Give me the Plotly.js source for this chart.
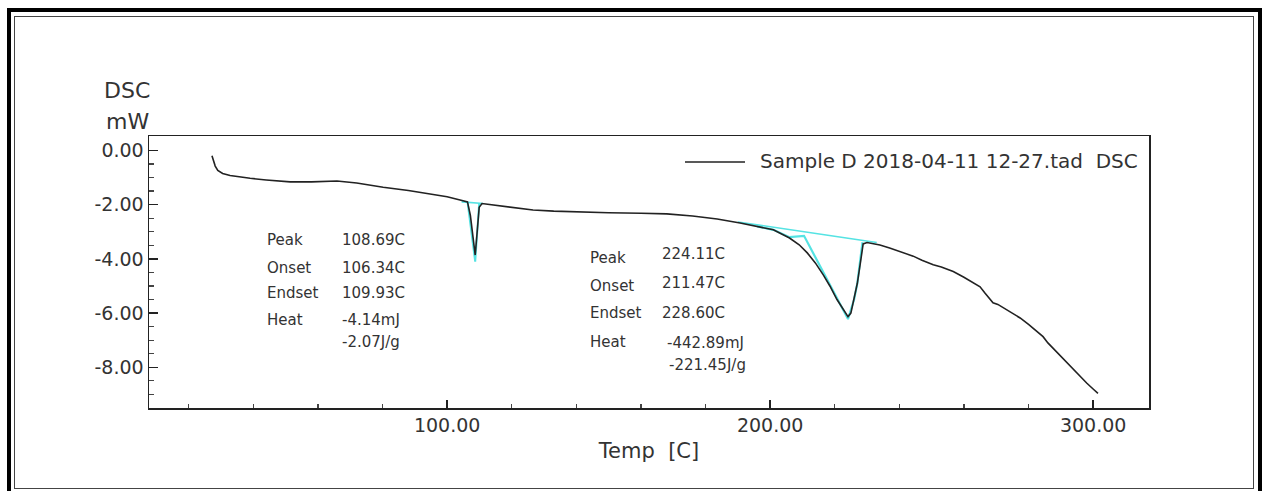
<!DOCTYPE html>
<html>
<head>
<meta charset="utf-8">
<script src="https://cdn.plot.ly/plotly-3.0.1.min.js"></script>
<style>
  html, body { margin:0; padding:0; background:#fff; width:1268px; height:491px; overflow:hidden; }
  #outer { position:absolute; left:7px; top:8px; width:1247px; height:490px; border:4px solid #000; box-sizing:content-box; }
  #inner { position:absolute; left:14px; top:16px; width:1238px; height:471px; border:1px solid #444; }
  #chart { position:absolute; left:0; top:0; width:1268px; height:491px; }
</style>
</head>
<body>
<div id="outer"></div>
<div id="inner"></div>
<div id="chart"></div>
<script>
// ---- DSC curve (Temp [C] vs DSC [mW]) ----
var tempC = [27.2, 27.6, 28.2, 29.0, 30.5, 32.8, 36, 39, 44, 51.4, 58, 65.9, 72, 80.2, 88, 95.7, 100, 104,
  106.3, 107.2, 108.0, 108.69, 109.3, 109.93, 110.8, 112, 118, 126.6, 133, 140.2, 150, 160, 168, 176, 183.6,
  190.7, 196, 201, 206, 209, 211.5, 214, 216.5, 218.5, 220.7, 222.5, 223.8, 224.11, 225, 226, 227, 228, 228.8,
  230, 232, 234, 237, 240, 244.3, 247, 250.5, 253, 256.7, 260, 262.9, 265, 266.5, 268, 269, 270.5, 272, 274,
  277.4, 280, 282, 284.5, 286, 288, 290, 292, 295, 298, 300, 301.5];
var dscMW = [-0.2, -0.38, -0.58, -0.74, -0.85, -0.93, -0.99, -1.03, -1.09, -1.16, -1.16, -1.13, -1.2, -1.36, -1.48, -1.62, -1.71, -1.83,
  -1.9, -2.4, -3.3, -3.86, -3.0, -2.1, -1.96, -1.98, -2.08, -2.2, -2.24, -2.27, -2.3, -2.32, -2.34, -2.42, -2.53,
  -2.68, -2.8, -2.93, -3.23, -3.48, -3.78, -4.15, -4.6, -5.0, -5.5, -5.85, -6.07, -6.13, -6.0, -5.5, -4.9, -4.1, -3.45,
  -3.4, -3.44, -3.49, -3.6, -3.73, -3.9, -4.05, -4.22, -4.3, -4.47, -4.68, -4.89, -5.03, -5.26, -5.5, -5.62, -5.68, -5.79, -5.93,
  -6.18, -6.42, -6.62, -6.87, -7.1, -7.35, -7.6, -7.85, -8.22, -8.58, -8.8, -8.96];

// ---- analysis overlays (cyan) ----
var base1T = [104.5, 111.1];
var base1V = [-1.9, -1.96];
var peak1T = [106.34, 108.69, 109.93];
var peak1V = [-1.92, -4.1, -1.95];
var base2T = [190, 233];
var base2V = [-2.64, -3.40];
var peak2T = [196, 201, 206, 210.5, 224.11, 226, 227, 228.6];
var peak2V = [-2.8, -2.93, -3.2, -3.15, -6.22, -5.5, -4.9, -3.38];

// ---- axis ticks ----
var xTickVals = [100, 200, 300];
var xTickText = ['100.00', '200.00', '300.00'];
var yTickVals = [0, -2, -4, -6, -8];
var yTickText = ['0.00', '-2.00', '-4.00', '-6.00', '-8.00'];

// ---- peak annotations ----
var peak1Labels = ['Peak', 'Onset', 'Endset', 'Heat'];
var peak1Values = ['108.69C', '106.34C', '109.93C', '-4.14mJ', '-2.07J/g'];
var peak2Labels = ['Peak', 'Onset', 'Endset', 'Heat'];
var peak2Values = ['224.11C', '211.47C', '228.60C', '-442.89mJ', '-221.45J/g'];
var legendText = 'Sample D 2018-04-11 12-27.tad\u00a0 DSC';

var F = 'DejaVu Sans, Arial, sans-serif';
var cyan = '#55e3e3';

var traces = [
  {x: base2T, y: base2V, mode: 'lines', line: {color: cyan, width: 1.6}, hoverinfo: 'skip'},
  {x: peak2T, y: peak2V, mode: 'lines', line: {color: cyan, width: 2.2}, hoverinfo: 'skip'},
  {x: base1T, y: base1V, mode: 'lines', line: {color: cyan, width: 1.6}, hoverinfo: 'skip'},
  {x: peak1T, y: peak1V, mode: 'lines', line: {color: cyan, width: 2}, hoverinfo: 'skip'},
  {x: tempC, y: dscMW, mode: 'lines', line: {color: '#222', width: 1.6}, name: legendText}
];

function txt(x, y, t, size) {
  return {x: x, y: y, xref: 'x', yref: 'y', text: t, showarrow: false, xanchor: 'left', yanchor: 'middle',
    font: {family: F, size: size || 15, color: '#333'}};
}
var ann = [];
// small peak block
var l1x = 43.6, v1x = 66.9;
var r1 = [-3.30, -4.34, -5.26, -6.25];
for (var i = 0; i < 4; i++) ann.push(txt(l1x, r1[i], peak1Labels[i]));
var rv1 = [-3.30, -4.34, -5.26, -6.25, -7.07];
for (var i = 0; i < 5; i++) ann.push(txt(v1x, rv1[i], peak1Values[i]));
// big peak block
var l2x = 143.6;
var r2 = [-3.97, -5.0, -6.0, -7.07];
for (var i = 0; i < 4; i++) ann.push(txt(l2x, r2[i], peak2Labels[i]));
var v2x = [165.9, 165.9, 165.9, 167.5, 168.1];
var rv2 = [-3.82, -4.89, -6.0, -7.10, -7.92];
for (var i = 0; i < 5; i++) ann.push(txt(v2x[i], rv2[i], peak2Values[i]));
// y-axis title (two lines above axis)
ann.push({x: -0.022, y: 1.169, xref: 'paper', yref: 'paper', text: 'DSC', showarrow: false, xanchor: 'center', yanchor: 'middle', font: {family: F, size: 22, color: '#333'}});
ann.push({x: -0.022, y: 1.055, xref: 'paper', yref: 'paper', text: 'mW', showarrow: false, xanchor: 'center', yanchor: 'middle', font: {family: F, size: 22, color: '#333'}});
// legend text
ann.push({x: 0.609, y: 0.907, xref: 'paper', yref: 'paper', text: legendText, showarrow: false, xanchor: 'left', yanchor: 'middle', font: {family: F, size: 20, color: '#333'}});

var layout = {
  width: 1268, height: 491,
  margin: {l: 149, r: 119, t: 136, b: 83},
  paper_bgcolor: 'rgba(0,0,0,0)', plot_bgcolor: '#fff',
  showlegend: false,
  xaxis: {
    range: [7.7, 317.3], tickmode: 'array', tickvals: xTickVals, ticktext: xTickText,
    ticks: 'inside', ticklen: 8, tickwidth: 1.5, tickcolor: '#222',
    minor: {tickmode: 'linear', tick0: 0, dtick: 20, ticks: 'inside', ticklen: 4, tickwidth: 1.2, tickcolor: '#444', showgrid: false},
    showline: true, linecolor: '#222', linewidth: 1.5, mirror: true, showgrid: false, zeroline: false,
    tickfont: {family: F, size: 19, color: '#333'},
    title: {text: 'Temp  [C]', font: {family: F, size: 21, color: '#333'}, standoff: 8}
  },
  yaxis: {
    range: [-9.5, 0.53], tickmode: 'array', tickvals: yTickVals, ticktext: yTickText,
    ticks: 'inside', ticklen: 9, tickwidth: 1.5, tickcolor: '#222',
    minor: {tickmode: 'linear', tick0: 0, dtick: 0.5, ticks: 'inside', ticklen: 5, tickwidth: 1.2, tickcolor: '#444', showgrid: false},
    showline: true, linecolor: '#222', linewidth: 1.5, mirror: true, showgrid: false, zeroline: false,
    tickfont: {family: F, size: 19, color: '#333'}
  },
  shapes: [
    {type: 'line', xref: 'paper', yref: 'paper', x0: 0.536, x1: 0.596, y0: 0.904, y1: 0.904, line: {color: '#222', width: 1.5}}
  ],
  annotations: ann
};

Plotly.newPlot('chart', traces, layout, {displayModeBar: false, staticPlot: true});
</script>
</body>
</html>
